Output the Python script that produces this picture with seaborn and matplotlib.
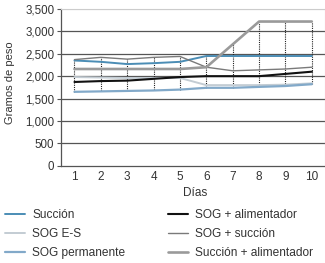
import matplotlib
matplotlib.use("Agg")
import matplotlib.pyplot as plt
import seaborn as sns
import numpy as np
from matplotlib.ticker import FuncFormatter

# Data
dias = [1, 2, 3, 4, 5, 6, 7, 8, 9, 10]
succion = [2350, 2320, 2270, 2290, 2320, 2450, 2450, 2450, 2450, 2450]
sog_es = [1980, 1970, 1960, 1960, 1960, 1800, 1800, 1800, 1810, 1840]
sog_permanente = [1650, 1660, 1670, 1680, 1700, 1740, 1740, 1760, 1780, 1820]
sog_alimentador = [1870, 1890, 1900, 1940, 1980, 2000, 2000, 2000, 2050, 2100]
sog_succion = [2370, 2420, 2380, 2420, 2440, 2200, 2120, 2140, 2160, 2200]
succion_alimentador = [2160, 2160, 2160, 2160, 2160, 2200, 2710, 3220, 3220, 3220]

series = [
    ("Succión", succion, "#4b8db5", 1.4),
    ("SOG E-S", sog_es, "#c3ccd3", 1.4),
    ("SOG permanente", sog_permanente, "#82a9c9", 1.6),
    ("SOG + alimentador", sog_alimentador, "#111111", 1.5),
    ("SOG + succión", sog_succion, "#7a7a7a", 1.0),
    ("Succión + alimentador", succion_alimentador, "#9a9a9a", 1.9),
]

TEXT = "#333333"

sns.set_theme(style="white")
plt.rcParams['font.family'] = ['Liberation Sans', 'DejaVu Sans']

W, H = 325, 263
fig = plt.figure(figsize=(W / 100, H / 100), dpi=100)
ax = fig.add_axes([61.3 / W, 1 - 165.7 / H, (W - 61.3) / W, (165.7 - 9) / H])

# horizontal gridlines
for v in range(500, 3001, 500):
    ax.axhline(v, color="#555555", lw=0.9, zorder=0)
ax.axhline(3500, color="#bbbbbb", lw=0.8, zorder=0)

# hi-lo dotted lines
allv = np.array([s[1] for s in series])
ax.vlines(dias, allv.min(axis=0), allv.max(axis=0), colors="#222222",
          linestyles=(0, (1, 1)), lw=0.8, zorder=1)

for name, vals, col, lw in series:
    sns.lineplot(x=dias, y=vals, color=col, lw=lw, label=name, ax=ax, zorder=3)

ax.set_xlim(0.5, 10.5)
ax.set_ylim(0, 3500)
ax.set_xticks(dias)
ax.set_yticks(range(0, 3501, 500))
ax.yaxis.set_major_formatter(FuncFormatter(lambda v, p: f"{int(v):,}"))
ax.tick_params(axis="y", length=3, width=0.8, color="#555555", labelsize=8.3,
               pad=2, left=True, labelcolor=TEXT)
ax.tick_params(axis="x", length=0, labelsize=8.5, pad=4, labelcolor=TEXT)
for s in ["left", "bottom"]:
    ax.spines[s].set_color("#555555")
    ax.spines[s].set_linewidth(0.9)
for s in ["top", "right"]:
    ax.spines[s].set_color("#cccccc")
    ax.spines[s].set_linewidth(0.8)

ax.set_xlabel("")
ax.set_ylabel("")
fig.text(195.5 / W, 1 - 193 / H, "Días", fontsize=8.5, color=TEXT, ha="center", va="center")
fig.text(10 / W, 1 - 82.5 / H, "Gramos de peso", fontsize=8, color=TEXT,
         ha="center", va="center", rotation=90)

handles, labels = ax.get_legend_handles_labels()
ax.get_legend().remove()
leg = fig.legend(handles, labels, loc="upper left", bbox_to_anchor=(5 / W, 1 - 209 / H),
                 ncol=2, frameon=False, fontsize=8.6, handlelength=1.68, handletextpad=0.59,
                 columnspacing=3.6, labelspacing=0.6, borderpad=0, borderaxespad=0)
for t in leg.get_texts():
    t.set_color(TEXT)

fig.savefig("out.png", dpi=100)
